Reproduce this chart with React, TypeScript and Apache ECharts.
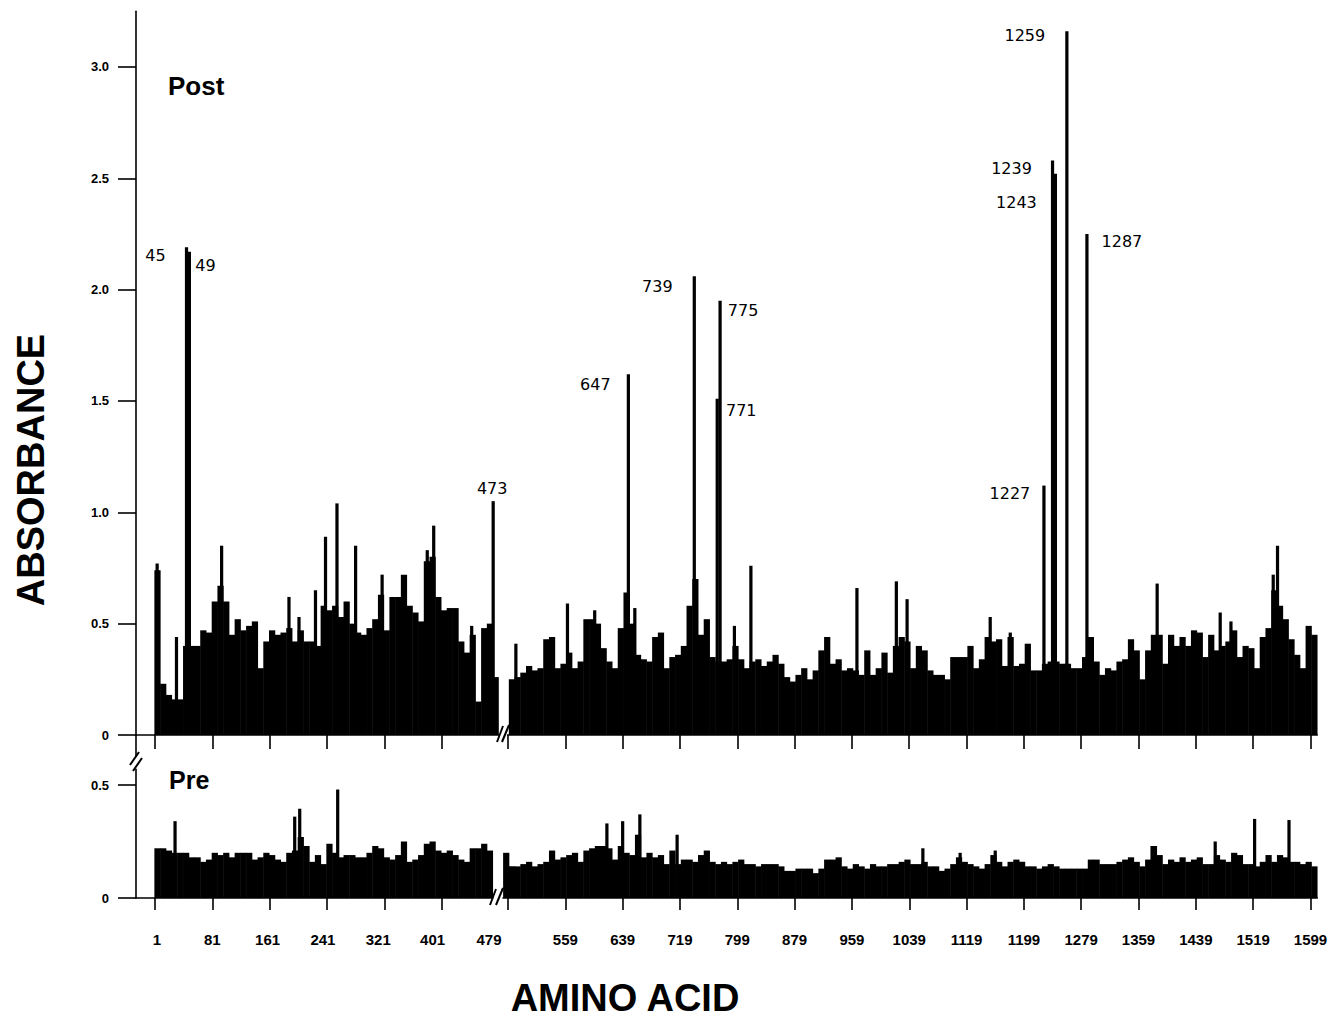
import React, { useEffect, useRef } from "react";
import * as echarts from "echarts";

// ---------- DATA (absorbance per amino-acid position) ----------
const BIN = 8; // amino acids per background bar
const POST_LEFT_START = 1;
const POST_RIGHT_START = 481;
const PRE_LEFT_START = 1;
const PRE_RIGHT_START = 473;

const POST_LEFT_BINS = [
  0.74, 0.23, 0.18, 0.16, 0.16, 0.40, 0.40, 0.40, 0.47, 0.46,
  0.60, 0.67, 0.60, 0.45, 0.52, 0.47, 0.49, 0.51, 0.30, 0.42,
  0.47, 0.45, 0.46, 0.48, 0.42, 0.47, 0.42, 0.42, 0.40, 0.58,
  0.56, 0.58, 0.53, 0.60, 0.50, 0.46, 0.45, 0.48, 0.52, 0.63,
  0.47, 0.62, 0.62, 0.72, 0.58, 0.55, 0.51, 0.78, 0.80, 0.62,
  0.56, 0.57, 0.57, 0.42, 0.37, 0.45, 0.15, 0.48, 0.50, 0.26,
];

const POST_RIGHT_BINS = [
  0.25, 0.26, 0.28, 0.31, 0.29, 0.30, 0.43, 0.44, 0.30, 0.32,
  0.37, 0.30, 0.33, 0.52, 0.52, 0.50, 0.39, 0.33, 0.30, 0.48,
  0.64, 0.50, 0.36, 0.34, 0.33, 0.44, 0.46, 0.30, 0.35, 0.36,
  0.40, 0.58, 0.70, 0.45, 0.52, 0.35, 0.33, 0.33, 0.34, 0.40,
  0.34, 0.30, 0.33, 0.34, 0.31, 0.33, 0.36, 0.32, 0.26, 0.24,
  0.27, 0.30, 0.25, 0.29, 0.38, 0.44, 0.32, 0.34, 0.29, 0.30,
  0.29, 0.27, 0.38, 0.27, 0.30, 0.37, 0.28, 0.40, 0.44, 0.42,
  0.30, 0.40, 0.38, 0.29, 0.27, 0.27, 0.25, 0.35, 0.35, 0.35,
  0.40, 0.30, 0.34, 0.44, 0.42, 0.43, 0.31, 0.44, 0.31, 0.32,
  0.41, 0.29, 0.29, 0.32, 0.33, 0.33, 0.32, 0.32, 0.30, 0.30,
  0.35, 0.44, 0.33, 0.27, 0.30, 0.29, 0.33, 0.34, 0.43, 0.38,
  0.25, 0.38, 0.45, 0.45, 0.32, 0.45, 0.40, 0.44, 0.40, 0.47,
  0.46, 0.35, 0.45, 0.38, 0.40, 0.42, 0.47, 0.35, 0.40, 0.39,
  0.30, 0.44, 0.48, 0.65, 0.58, 0.52, 0.43, 0.36, 0.30, 0.49,
  0.45,
];

const PRE_LEFT_BINS = [
  0.22, 0.22, 0.21, 0.20, 0.20, 0.20, 0.18, 0.18, 0.16, 0.17,
  0.20, 0.19, 0.20, 0.18, 0.20, 0.20, 0.20, 0.17, 0.18, 0.20,
  0.19, 0.17, 0.16, 0.20, 0.21, 0.27, 0.23, 0.16, 0.19, 0.15,
  0.24, 0.20, 0.18, 0.19, 0.19, 0.18, 0.18, 0.20, 0.23, 0.22,
  0.18, 0.17, 0.19, 0.25, 0.16, 0.17, 0.19, 0.24, 0.25, 0.21,
  0.20, 0.21, 0.19, 0.17, 0.16, 0.22, 0.22, 0.24, 0.21,
];

const PRE_RIGHT_BINS = [
  0.20, 0.14, 0.14, 0.15, 0.16, 0.14, 0.15, 0.16, 0.21, 0.17,
  0.18, 0.19, 0.20, 0.16, 0.21, 0.22, 0.23, 0.23, 0.22, 0.17,
  0.23, 0.20, 0.19, 0.28, 0.18, 0.20, 0.18, 0.19, 0.15, 0.21,
  0.15, 0.17, 0.17, 0.16, 0.19, 0.21, 0.16, 0.15, 0.16, 0.15,
  0.16, 0.17, 0.15, 0.15, 0.14, 0.15, 0.15, 0.15, 0.14, 0.12,
  0.12, 0.13, 0.13, 0.13, 0.11, 0.13, 0.17, 0.17, 0.18, 0.14,
  0.13, 0.15, 0.14, 0.13, 0.15, 0.14, 0.14, 0.15, 0.15, 0.16,
  0.17, 0.15, 0.15, 0.16, 0.14, 0.14, 0.12, 0.13, 0.15, 0.18,
  0.16, 0.15, 0.14, 0.13, 0.15, 0.19, 0.16, 0.14, 0.16, 0.17,
  0.16, 0.14, 0.14, 0.13, 0.14, 0.15, 0.14, 0.13, 0.13, 0.13,
  0.13, 0.13, 0.17, 0.17, 0.15, 0.15, 0.15, 0.16, 0.17, 0.18,
  0.16, 0.14, 0.17, 0.23, 0.19, 0.15, 0.17, 0.16, 0.18, 0.16,
  0.17, 0.18, 0.15, 0.15, 0.19, 0.17, 0.16, 0.20, 0.19, 0.15,
  0.15, 0.14, 0.16, 0.19, 0.16, 0.19, 0.18, 0.16, 0.16, 0.15,
  0.16, 0.14,
];

// individual residues that rise above the background: [amino acid, absorbance]
const POST_SPIKES: number[][] = [
  [4, 0.77], [31, 0.44], [45, 2.19], [49, 2.17], [94, 0.85], [188, 0.62],
  [202, 0.53], [225, 0.65], [239, 0.89], [255, 1.04], [281, 0.85],
  [318, 0.72], [381, 0.83], [390, 0.94], [443, 0.49], [473, 1.05],
  [490, 0.41], [562, 0.59], [600, 0.56], [647, 1.62], [656, 0.57],
  [739, 2.06], [771, 1.51], [775, 1.95], [795, 0.49], [818, 0.76],
  [966, 0.66], [1021, 0.69], [1036, 0.61], [1152, 0.53], [1180, 0.46],
  [1227, 1.12], [1239, 2.58], [1243, 2.52], [1259, 3.16], [1287, 2.25],
  [1385, 0.68], [1473, 0.55], [1488, 0.51], [1547, 0.72], [1553, 0.85],
];

const PRE_SPIKES: number[][] = [
  [29, 0.34], [196, 0.36], [203, 0.395], [256, 0.48], [617, 0.33],
  [639, 0.34], [663, 0.37], [715, 0.28], [1058, 0.22], [1110, 0.2],
  [1159, 0.21], [1378, 0.23], [1466, 0.25], [1521, 0.35], [1569, 0.345],
];

const PEAK_LABELS = ["45", "49", "473", "647", "739", "771", "775", "1227", "1239", "1243", "1259", "1287"];

const X_TICKS_LEFT = [1, 81, 161, 241, 321, 401];
const X_TICKS_RIGHT = [479, 559, 639, 719, 799, 879, 959, 1039, 1119, 1199, 1279, 1359, 1439, 1519, 1599];
const Y_TICKS_POST = [0, 0.5, 1.0, 1.5, 2.0, 2.5, 3.0];
const Y_TICKS_PRE = [0, 0.5];

// ---------- LAYOUT ----------
const PX_PER_AA = 0.7165;
const POST_SPLIT = 480.5;
const PRE_SPLIT = 472.5;
const X_END = 1608.5;
const POST_PX_PER_UNIT = 222.7;
const PRE_PX_PER_UNIT = 226;
const SPIKE_HALF = 1.9;
// label offsets from the top of the labelled bar (px)
const LABEL_OFFSET: Record<string, [number, number]> = {
  "45": [-31, 8],
  "49": [16, 14],
  "473": [-1, -13],
  "647": [-33, 10],
  "739": [-37, 10],
  "771": [24, 12],
  "775": [23, 10],
  "1227": [-34, 8],
  "1239": [-41, 8],
  "1243": [-39, 29],
  "1259": [-42, 4],
  "1287": [35, 8],
};
// horizontal shift of some tick labels relative to their ticks (px)
const TICK_LABEL_SHIFT: Record<number, number> = { 1: 2, 161: -2, 241: -4, 321: -6, 401: -9, 479: -19 };

const FONT = "'Liberation Sans', Arial, Helvetica, sans-serif";

function binItems(bins: number[], start: number) {
  return bins.map((v, i) => [start - 0.5 + i * BIN, start - 0.5 + (i + 1) * BIN, v]);
}
function spikeItems(sp: number[][]) {
  return sp.map(([aa, v]) => [aa - SPIKE_HALF, aa + SPIKE_HALF, v]);
}

const renderBar = (_params: any, api: any) => {
  const a = api.coord([api.value(0), api.value(2)]);
  const b = api.coord([api.value(1), 0]);
  return {
    type: "rect",
    shape: { x: a[0] - 0.25, y: a[1], width: b[0] - a[0] + 0.5, height: b[1] - a[1] },
    style: { fill: "#000" },
  };
};

export default function App() {
  const ref = useRef<HTMLDivElement>(null);

  useEffect(() => {
    if (!ref.current) return;
    const chart = echarts.init(ref.current, undefined, { renderer: "svg" });

    const postBottom = 735;
    const postH = 3.25 * POST_PX_PER_UNIT;
    const preBottom = 898;
    const preMax = 0.57;
    const preH = preMax * PRE_PX_PER_UNIT;

    const gPostL = { left: 136, top: postBottom - postH, width: (POST_SPLIT + 25.5) * PX_PER_AA, height: postH };
    const gPostR = { left: 508 - 0.5 * PX_PER_AA, top: postBottom - postH, width: (X_END - 478.5) * PX_PER_AA, height: postH };
    const gPreL = { left: 136, top: preBottom - preH, width: (PRE_SPLIT + 25.5) * PX_PER_AA, height: preH };
    const gPreR = { left: 503, top: preBottom - preH, width: (X_END - 472) * PX_PER_AA, height: preH };

    const axisLine = { show: true, onZero: false, lineStyle: { color: "#000", width: 1.6 } };

    const labelFont = { fontFamily: FONT, fontWeight: "bold", fontSize: 15, color: "#000" };
    const rich: Record<string, any> = { n: { ...labelFont } };
    Object.keys(TICK_LABEL_SHIFT).forEach((k) => {
      const s = TICK_LABEL_SHIFT[Number(k)];
      rich["t" + k] = { ...labelFont, padding: s > 0 ? [0, 0, 0, 2 * s] : [0, -2 * s, 0, 0] };
    });

    const xAxis = (grid: number, min: number, max: number, ticks: number[], tickLen: number, labels: boolean) => ({
      type: "value",
      gridIndex: grid,
      min,
      max,
      axisLine,
      splitLine: { show: false },
      axisTick: { show: true, length: tickLen, customValues: ticks, lineStyle: { color: "#000", width: 1.6 } },
      axisLabel: {
        show: labels,
        customValues: ticks,
        margin: 34,
        ...labelFont,
        rich,
        formatter: (v: number) => {
          const key = TICK_LABEL_SHIFT[v] !== undefined ? "t" + v : "n";
          return `{${key}|${String(Math.round(v))}}`;
        },
      },
    });

    const yAxis = (grid: number, max: number, ticks: number[], visible: boolean) => ({
      type: "value",
      gridIndex: grid,
      min: 0,
      max,
      show: visible,
      axisLine,
      splitLine: { show: false },
      axisTick: { show: true, length: 18, customValues: ticks, lineStyle: { color: "#000", width: 1.6 } },
      axisLabel: {
        show: true,
        customValues: ticks,
        margin: 27,
        color: "#000",
        fontFamily: FONT,
        fontWeight: "bold",
        fontSize: 13,
        formatter: (v: number) => (v === 0 ? "0" : v.toFixed(1)),
      },
    });

    const splitSpikes = (sp: number[][], split: number) => [
      sp.filter((s) => s[0] < split),
      sp.filter((s) => s[0] >= split),
    ];
    const [postSpL, postSpR] = splitSpikes(POST_SPIKES, POST_SPLIT);
    const [preSpL, preSpR] = splitSpikes(PRE_SPIKES, PRE_SPLIT);

    const barSeries = (data: number[][], axis: number) => ({
      type: "custom",
      coordinateSystem: "cartesian2d",
      xAxisIndex: axis,
      yAxisIndex: axis,
      renderItem: renderBar,
      encode: { x: [0, 1], y: 2 },
      data,
      silent: true,
    });

    const labelled = POST_SPIKES.filter((s) => PEAK_LABELS.includes(String(s[0])));
    const labelSeries = (data: number[][], axis: number) => ({
      type: "custom",
      coordinateSystem: "cartesian2d",
      xAxisIndex: axis,
      yAxisIndex: axis,
      encode: { x: 0, y: 1 },
      data,
      silent: true,
      renderItem: (_p: any, api: any) => {
        const aa = api.value(0);
        const p = api.coord([aa, api.value(1)]);
        const off = LABEL_OFFSET[String(aa)] || [0, -10];
        return {
          type: "text",
          x: p[0] + off[0],
          y: p[1] + off[1],
          style: {
            text: String(aa),
            fill: "#000",
            font: "16px 'DejaVu Sans', sans-serif",
            align: "center",
            verticalAlign: "middle",
          },
        };
      },
    });

    const slash = (x1: number, y1: number, x2: number, y2: number) => ({
      type: "line",
      shape: { x1, y1, x2, y2 },
      style: { stroke: "#000", lineWidth: 2 },
      z: 100,
    });

    chart.setOption({
      animation: false,
      backgroundColor: "#fff",
      grid: [gPostL, gPostR, gPreL, gPreR].map((g) => ({ ...g, containLabel: false, outerBoundsMode: "none" })),
      xAxis: [
        xAxis(0, -25.5, POST_SPLIT, X_TICKS_LEFT, 14, false),
        xAxis(1, 478.5, X_END, X_TICKS_RIGHT, 14, false),
        xAxis(2, -25.5, PRE_SPLIT, X_TICKS_LEFT, 12, true),
        xAxis(3, 472, X_END, X_TICKS_RIGHT, 12, true),
      ],
      yAxis: [
        yAxis(0, 3.25, Y_TICKS_POST, true),
        yAxis(1, 3.25, Y_TICKS_POST, false),
        yAxis(2, preMax, Y_TICKS_PRE, true),
        yAxis(3, preMax, Y_TICKS_PRE, false),
      ],
      series: [
        barSeries(binItems(POST_LEFT_BINS, POST_LEFT_START), 0),
        barSeries(spikeItems(postSpL), 0),
        barSeries(binItems(POST_RIGHT_BINS, POST_RIGHT_START), 1),
        barSeries(spikeItems(postSpR), 1),
        barSeries(binItems(PRE_LEFT_BINS, PRE_LEFT_START), 2),
        barSeries(spikeItems(preSpL), 2),
        barSeries(binItems(PRE_RIGHT_BINS, PRE_RIGHT_START), 3),
        barSeries(spikeItems(preSpR), 3),
        labelSeries(labelled.filter((s) => s[0] < POST_SPLIT), 0),
        labelSeries(labelled.filter((s) => s[0] >= POST_SPLIT), 1),
      ],
      graphic: [
        // y axis continuation below zero and its break
        { type: "line", shape: { x1: 136, y1: 735, x2: 136, y2: 757 }, style: { stroke: "#000", lineWidth: 1.6 } },
        slash(130, 765, 139, 752),
        slash(133, 771, 142, 758),
        // x axis breaks
        slash(497, 742, 503, 726),
        slash(502, 742, 509, 725),
        slash(490, 905, 496, 889),
        slash(496, 905, 503, 888),
        {
          type: "text",
          x: 168,
          y: 86,
          style: { text: "Post", font: `bold 26px ${FONT}`, fill: "#000", align: "left", verticalAlign: "middle" },
        },
        {
          type: "text",
          x: 169,
          y: 780,
          style: { text: "Pre", font: `bold 25px ${FONT}`, fill: "#000", align: "left", verticalAlign: "middle" },
        },
        {
          type: "text",
          x: 31,
          y: 470,
          rotation: Math.PI / 2,
          style: { text: "ABSORBANCE", font: `bold 38px ${FONT}`, fill: "#000", align: "center", verticalAlign: "middle" },
        },
        {
          type: "text",
          x: 625,
          y: 998,
          style: {
            text: "AMINO ACID",
            font: `bold 38px ${FONT}`,
            lineHeight: 36,
            fill: "#000",
            align: "center",
            verticalAlign: "middle",
          },
        },
      ],
    });

    return () => chart.dispose();
  }, []);

  return (
    <div
      ref={ref}
      style={{ position: "fixed", left: 0, top: 0, width: 1330, height: 1018, background: "#fff" }}
    />
  );
}
